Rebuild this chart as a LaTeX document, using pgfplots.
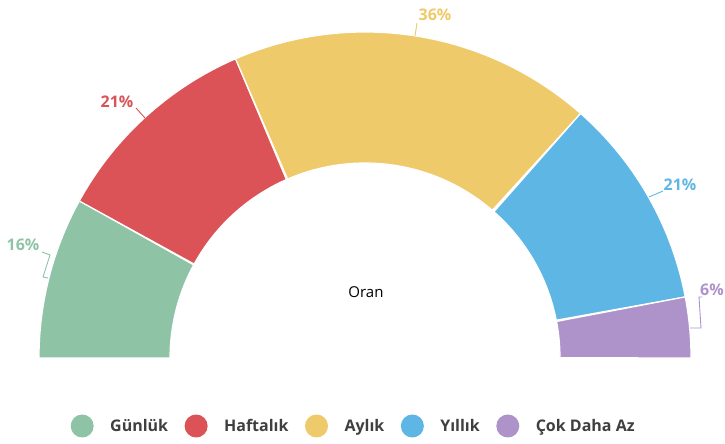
\documentclass[border=0pt]{standalone}
\usepackage{pgfplots}
\pgfplotsset{compat=1.18}
\usepackage{fontspec}
\setmainfont{Open Sans}
\definecolor{cG}{HTML}{8FC3A6}
\definecolor{cR}{HTML}{DB5356}
\definecolor{cY}{HTML}{EFCA6A}
\definecolor{cB}{HTML}{5DB6E4}
\definecolor{cP}{HTML}{AD93C9}
\definecolor{txt}{HTML}{3F3F3F}
\pgfplotsset{
  circ/.style={legend image code/.code={\fill[#1, draw=none] (11.5pt,0pt) circle (11.5pt); \path[draw=none, fill=none] (0pt,-11.5pt) rectangle (39.5pt,11.5pt);}},
}
\begin{document}
\begin{tikzpicture}
\begin{axis}[
  scale only axis, width=725pt, height=444pt,
  xmin=0, xmax=725, ymin=0, ymax=444,
  hide axis, clip=false,
  declare function={
    rr(\t)=(\t<1.005)?326:((\t<2.005)?195:(195+131*(\t-2)));
    ang(\t,\c,\p)=180-1.8*(\c+\p*((\t<1.005)?\t:((\t<2.005)?(2-\t):0)));
  },
  wedge/.style={fill=#1, draw=white, line width=1.2pt, line join=round, samples=301, domain=0:3, forget plot},
  legend columns=5,
  legend style={draw=none, fill=none, inner sep=0pt, at={(axis cs:70.5,18)}, anchor=west,
    font=\fontsize{16}{19}\selectfont\bfseries, text=txt,
    nodes={inner xsep=0pt, inner ysep=2pt},
    /tikz/every even column/.append style={column sep=16.5pt}},
]
\addplot[wedge=cG] ({365+rr(x)*cos(ang(x,0,16))},{86+rr(x)*sin(ang(x,0,16))});
\addplot[wedge=cR] ({365+rr(x)*cos(ang(x,16,21))},{86+rr(x)*sin(ang(x,16,21))});
\addplot[wedge=cY] ({365+rr(x)*cos(ang(x,37,36))},{86+rr(x)*sin(ang(x,37,36))});
\addplot[wedge=cB] ({365+rr(x)*cos(ang(x,73,21))},{86+rr(x)*sin(ang(x,73,21))});
\addplot[wedge=cP] ({365+rr(x)*cos(ang(x,94,6))},{86+rr(x)*sin(ang(x,94,6))});
\addlegendimage{circ=cG}\addlegendentry{Günlük}
\addlegendimage{circ=cR}\addlegendentry{Haftalık}
\addlegendimage{circ=cY}\addlegendentry{Aylık}
\addlegendimage{circ=cB}\addlegendentry{Yıllık}
\addlegendimage{circ=cP}\addlegendentry{Çok Daha Az}
% leader lines
\addplot[cG, line width=0.9pt, forget plot] coordinates {(48,166) (43,167) (50,189) (42,192)};
\addplot[cR, line width=0.9pt, forget plot] coordinates {(145,326) (136,336)};
\addplot[cY, line width=0.9pt, forget plot] coordinates {(415,408) (417,421)};
\addplot[cB, line width=0.9pt, forget plot] coordinates {(649,247) (663,253)};
\addplot[cP, line width=0.9pt, forget plot] coordinates {(690,116) (701,116) (699,147) (702,147)};
% labels
\node[cG, font=\fontsize{16}{19}\selectfont\bfseries] at (axis cs:23,199) {16\%};
\node[cR, font=\fontsize{16}{19}\selectfont\bfseries] at (axis cs:117,342) {21\%};
\node[cY, font=\fontsize{16}{19}\selectfont\bfseries] at (axis cs:435,429) {36\%};
\node[cB, font=\fontsize{16}{19}\selectfont\bfseries] at (axis cs:680,259) {21\%};
\node[cP, font=\fontsize{16}{19}\selectfont\bfseries] at (axis cs:712,154) {6\%};
\node[black, font=\fontsize{15}{18}\selectfont] at (axis cs:366,152) {Oran};
\end{axis}
\pgfresetboundingbox
\path (current axis.south west) rectangle (current axis.north east);
\end{tikzpicture}
\end{document}
